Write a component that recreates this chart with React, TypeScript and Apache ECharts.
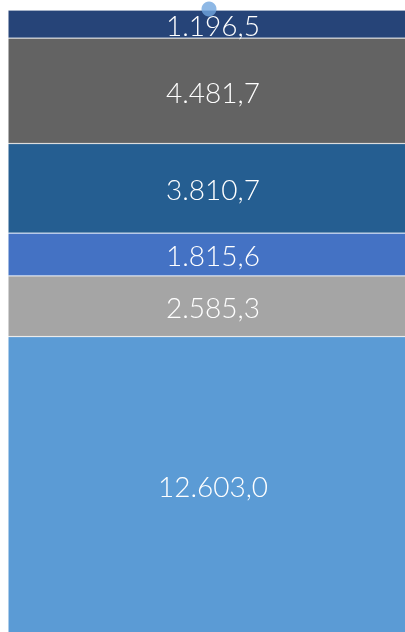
import React, { useEffect, useRef } from "react";
import * as echarts from "echarts";

const categories = ["Total"];
const seriesNames = ["S1", "S2", "S3", "S4", "S5", "S6"];
const seriesValues = [12603.0, 2585.3, 1815.6, 3810.7, 4481.7, 1196.5];
const seriesColors = ["#5B9BD5", "#A5A5A5", "#4472C4", "#255E91", "#636363", "#264478"];
const totalValue = [26492.8];

function fmt(v: number): string {
  const [i, d] = v.toFixed(1).split(".");
  return i.replace(/\B(?=(\d{3})+(?!\d))/g, ".") + "," + d;
}

export default function App() {
  const ref = useRef<HTMLDivElement>(null);
  useEffect(() => {
    if (!ref.current) return;
    const chart = echarts.init(ref.current, undefined, { renderer: "svg" });
    const bars = seriesValues.map((v, i) => ({
      name: seriesNames[i],
      type: "bar",
      stack: "total",
      data: [v],
      barWidth: "100%",
      itemStyle: { color: seriesColors[i], borderColor: "rgba(255,255,255,0.25)", borderWidth: 0.8 },
      label: {
        show: true,
        position: "inside",
        offset: [4, 1],
        color: "#ffffff",
        fontFamily: "Lato, 'Open Sans', sans-serif",
        fontWeight: 300,
        fontSize: 28,
        formatter: (p: any) => fmt(p.value),
      },
    }));
    chart.setOption({
      animation: false,
      grid: { left: 8, right: 0, top: 10, bottom: 0 },
      xAxis: { type: "category", data: categories, show: false, boundaryGap: true },
      yAxis: { type: "value", min: 0, max: totalValue[0], show: false },
      series: [
        ...bars,
        {
          type: "scatter",
          data: totalValue,
          symbolSize: 15,
          symbolOffset: [0, -1],
          itemStyle: { color: "#72A6DE" },
          z: 10,
        },
      ],
    });
    return () => chart.dispose();
  }, []);
  return (
    <div
      ref={ref}
      style={{ position: "fixed", left: 0, top: 0, width: 410, height: 633 }}
    />
  );
}
